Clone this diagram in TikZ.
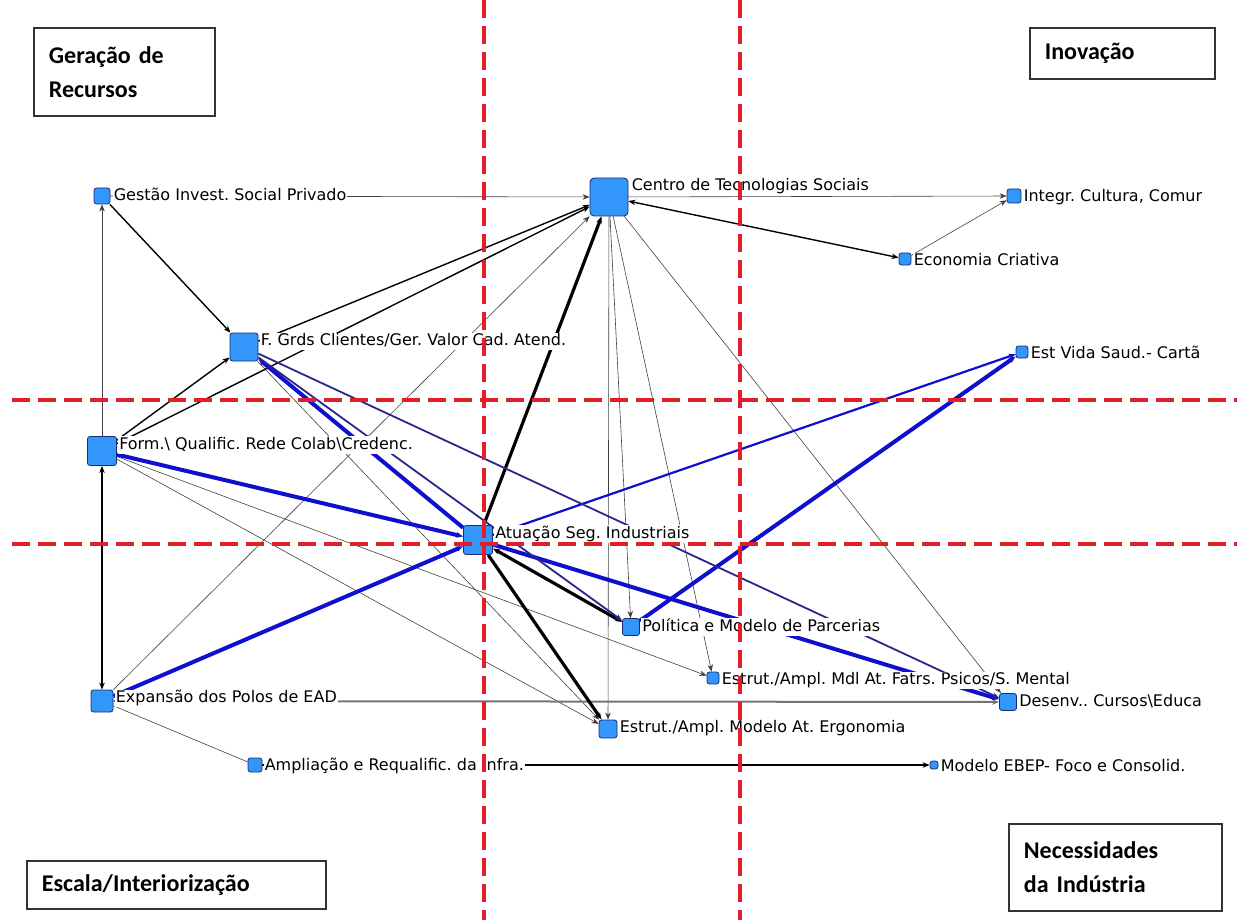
\documentclass[tikz,border=0pt]{standalone}
\usepackage{fontspec}
\setmainfont{DejaVu Sans}
\newfontfamily\quadfont{Carlito}
\usetikzlibrary{arrows.meta}

\definecolor{nodeblue}{RGB}{50,150,250}
\definecolor{nodeedge}{RGB}{25,45,110}
\definecolor{tieblue}{RGB}{15,15,205}
\definecolor{tienavy}{RGB}{40,40,140}
\definecolor{guidered}{RGB}{228,30,40}

\pgfdeclarelayer{ties}
\pgfdeclarelayer{guides}
\pgfsetlayers{ties,main,guides}

\tikzset{
	actor/.style={draw=nodeedge, fill=nodeblue, line width=0.8pt, rounded corners=2.5pt, minimum size=#1, inner sep=0pt},
	actlabel/.style={anchor=north west, fill=white, inner sep=1pt, text height=12pt, text depth=3.5pt, font=\fontsize{16}{19}\selectfont\frenchspacing},
	quadbox/.style={draw=black!80, line width=1.8pt, fill=white, anchor=north west, inner xsep=15pt, align=left, font=\quadfont\bfseries\fontsize{24}{34}\selectfont},
	arr/.style={-{Stealth[length=7pt,width=5.5pt]}},
	arrs/.style={{Stealth[length=7pt,width=5.5pt]}-{Stealth[length=7pt,width=5.5pt]}},
	thin tie/.style={draw=black!75, line width=0.6pt},
	mid tie/.style={draw=black, line width=1.4pt},
	thick tie/.style={draw=black, line width=3.2pt},
	blue tie/.style={draw=tieblue, line width=4pt},
	blue mid tie/.style={draw=tieblue, line width=2.2pt},
	navy tie/.style={draw=tienavy, line width=1.8pt},
	guide/.style={draw=guidered, line width=4pt, dash pattern=on 18pt off 8pt}
}
\tikzset{every picture/.style={line width=0.75pt}}

\begin{document}
\begin{tikzpicture}[x=1pt,y=-1pt]
	\useasboundingbox (0,0) rectangle (1237,920);

	% actors
	\node[actor=16pt] (gis) at (102,196) {};
	\node[actor=38pt, rounded corners=4pt] (cts) at (609,197) {};
	\node[actor=14pt] (icc) at (1014,196) {};
	\node[actor=12pt] (ec) at (905,259) {};
	\node[actor=28pt] (fgc) at (244,347) {};
	\node[actor=12pt] (evs) at (1022,352) {};
	\node[actor=29pt] (fqr) at (102,451) {};
	\node[actor=29pt] (asi) at (478,540) {};
	\node[actor=17pt] (pmp) at (631,627) {};
	\node[actor=12pt] (emf) at (713,678) {};
	\node[actor=22pt] (epe) at (102,701) {};
	\node[actor=17pt] (dce) at (1008,702) {};
	\node[actor=18pt] (eme) at (608,729) {};
	\node[actor=14pt] (ari) at (255,765) {};
	\node[actor=8pt] (meb) at (934,765) {};

	% actor labels
	\node[actlabel] (gisL) at ([xshift=2pt]gis.north east) {Gestão Invest. Social Privado};
	\node[actlabel] (ctsL) at ([xshift=2pt]cts.north east) {Centro de Tecnologias Sociais};
	\node[actlabel] (ecL) at ([xshift=1pt]ec.north east) {Economia Criativa};
	\node[actlabel] (fgcL) at ([xshift=1pt]fgc.north east) {F. Grds Clientes/Ger. Valor Cad. Atend.};
	\node[actlabel] (fqrL) at ([xshift=1pt]fqr.north east) {Form.\textbackslash\ Qualific. Rede Colab\textbackslash Credenc.};
	\node[actlabel] (asiL) at ([xshift=1pt]asi.north east) {Atuação Seg. Industriais};
	\node[actlabel] (pmpL) at ([xshift=1pt]pmp.north east) {Política e Modelo de Parcerias};
	\node[actlabel] (emfL) at ([xshift=1pt]emf.north east) {Estrut./Ampl. Mdl At. Fatrs. Psicos/S. Mental};
	\node[actlabel] (epeL) at ([xshift=1pt]epe.north east) {Expansão dos Polos de EAD};
	\node[actlabel] (emeL) at ([xshift=1pt]eme.north east) {Estrut./Ampl. Modelo At. Ergonomia};
	\node[actlabel] (ariL) at ([xshift=1pt]ari.north east) {Ampliação e Requalific. da Infra.};
	\node[actlabel] (mebL) at ([xshift=1pt,yshift=2pt]meb.north east) {Modelo EBEP- Foco e Consolid.};
	\begin{scope}
		\clip (0,0) rectangle (1213,920);
		\node[actlabel] (iccL) at ([xshift=1pt]icc.north east) {Integr. Cultura, Comur};
		\node[actlabel] (evsL) at ([xshift=1pt]evs.north east) {Est Vida Saud.- Cartã};
		\node[actlabel] (dceL) at ([xshift=1pt]dce.north east) {Desenv.. Cursos\textbackslash Educa};
	\end{scope}

	% quadrant boxes
	\node[quadbox, minimum width=181pt, minimum height=88pt, text width=151pt] (qgr) at (33,27) {Geração de\\Recursos};
	\node[quadbox, minimum width=185pt, minimum height=51pt, text width=155pt] (qin) at (1029,27) {Inovação};
	\node[quadbox, minimum width=299pt, minimum height=48pt, text width=269pt] (qes) at (26,860) {Escala/Interiorização};
	\node[quadbox, minimum width=213pt, minimum height=87pt, text width=183pt] (qni) at (1008,823) {Necessidades\\da Indústria};

	\begin{pgfonlayer}{ties}
		% thin ties
		\draw[thin tie, arr] (gis) -- (cts);
		\draw[thin tie, arr] (cts) -- (icc);
		\draw[thin tie, arr] (ec) -- (icc);
		\draw[thin tie, arr] (fqr) -- (gis);
		\draw[thin tie, arr] (epe) -- (cts);
		\draw[thin tie, arr] (cts) -- (eme);
		\draw[thin tie, arr] (cts) -- (pmp);
		\draw[thin tie, arr] (cts) -- (emf);
		\draw[thin tie, arr] (cts) -- (dce);
		\draw[thin tie, arr] (fgc) -- (eme);
		\draw[thin tie, arr] (fqr) -- (emf);
		\draw[thin tie, arr] (fqr) -- (eme);
		\draw[thin tie] (epe) -- (ari);
		% mid ties
		\draw[mid tie, arrs] (ec) -- (cts);
		\draw[mid tie, arr] (gis) -- (fgc);
		\draw[mid tie, arrs] (fqr) -- (epe);
		\draw[mid tie, arr] (fgc) -- (cts);
		\draw[mid tie, arr] (fqr) -- (cts);
		\draw[mid tie, arr] (fqr) -- (fgc);
		\draw[mid tie, line width=1.1pt, arr] (ari) -- (meb);
		\draw[mid tie, draw=black!55, line width=2pt, arr] (epe) -- (dce);
		% thick ties
		\draw[thick tie, arr] (asi) -- (cts);
		\draw[thick tie, arrs] (asi) -- (pmp);
		\draw[thick tie, arr] (asi) -- (eme);
		% blue ties
		\draw[blue tie, arr] (asi) -- (fgc);
		\draw[blue tie, arr] (fqr) -- (asi);
		\draw[blue tie, arr] (epe) -- (asi);
		\draw[blue tie, arr] (pmp) -- (evs);
		\draw[blue tie, arr] (asi) -- (dce);
		\draw[blue mid tie, arr] (asi) -- (evs);
		\draw[navy tie, arr] (fgc) -- (pmp);
		\draw[navy tie, arr] (fgc) -- (dce);
	\end{pgfonlayer}

	% quadrant guides
	\begin{pgfonlayer}{guides}
		\draw[guide] (484,0) -- (484,920);
		\draw[guide] (740,0) -- (740,920);
		\draw[guide] (12,400) -- (1237,400);
		\draw[guide] (12,544) -- (1237,544);
	\end{pgfonlayer}
\end{tikzpicture}
\end{document}
